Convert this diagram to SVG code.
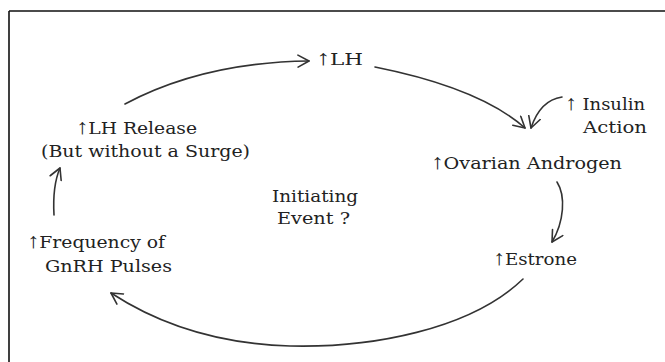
<svg xmlns="http://www.w3.org/2000/svg" width="665" height="362" viewBox="0 0 665 362">
<defs>
<style>
.t{font-family:"DejaVu Serif","Liberation Serif",serif;font-size:16px;fill:#222;}
.a{font-family:"Liberation Serif","DejaVu Serif",serif;font-size:21px;fill:#222;}
.c{fill:none;stroke:#333;stroke-width:1.6;stroke-linecap:round;}
</style>
<marker id="head" viewBox="0 0 14 14" refX="12" refY="7" markerWidth="14" markerHeight="14" markerUnits="userSpaceOnUse" orient="auto">
<path d="M1,1 L12,7 L1,13" fill="none" stroke="#333" stroke-width="1.6" stroke-linecap="round" stroke-linejoin="round"/>
</marker>
</defs>
<rect width="665" height="362" fill="#fff"/>
<path d="M9,11 H665 M9,11 V362" fill="none" stroke="#111" stroke-width="1.6"/>

<g id="lh"><text class="t" x="316" y="65" textLength="47" lengthAdjust="spacingAndGlyphs"><tspan class="a">↑</tspan>LH</text></g>
<g id="lh-release">
<text class="t" x="76" y="134" textLength="121" lengthAdjust="spacingAndGlyphs"><tspan class="a">↑</tspan>LH Release</text>
<text class="t" x="41" y="157" textLength="209" lengthAdjust="spacingAndGlyphs">(But without a Surge)</text>
</g>
<g id="gnrh">
<text class="t" x="27" y="248" textLength="138" lengthAdjust="spacingAndGlyphs"><tspan class="a">↑</tspan>Frequency of</text>
<text class="t" x="45" y="272" textLength="127" lengthAdjust="spacingAndGlyphs">GnRH Pulses</text>
</g>
<g id="initiating">
<text class="t" x="272" y="202" textLength="86" lengthAdjust="spacingAndGlyphs">Initiating</text>
<text class="t" x="277" y="224" textLength="73" lengthAdjust="spacingAndGlyphs">Event ?</text>
</g>
<g id="ovarian"><text class="t" x="431" y="169" textLength="191" lengthAdjust="spacingAndGlyphs"><tspan class="a">↑</tspan>Ovarian Androgen</text></g>
<g id="estrone"><text class="t" x="493" y="265" textLength="84" lengthAdjust="spacingAndGlyphs"><tspan class="a">↑</tspan>Estrone</text></g>
<g id="insulin">
<text class="t" x="565" y="110" textLength="80" lengthAdjust="spacingAndGlyphs"><tspan class="a">↑</tspan> Insulin</text>
<text class="t" x="583" y="133" textLength="64" lengthAdjust="spacingAndGlyphs">Action</text>
</g>

<g id="connectors">
<path class="c" d="M125,104 C170,80 230,62 309,61" marker-end="url(#head)"/>
<path class="c" d="M375,67 C430,78 490,97 525,128" marker-end="url(#head)"/>
<path class="c" d="M562,97 C548,99 537,110 531,128" marker-end="url(#head)"/>
<path class="c" d="M557,182 C566,196 564,222 552,242" marker-end="url(#head)"/>
<path class="c" d="M523,279 C470,330 370,348 290,346 C220,344 160,325 111,293" marker-end="url(#head)"/>
<path class="c" d="M54,215 C53,197 54,182 60,168" marker-end="url(#head)"/>
</g>
</svg>
